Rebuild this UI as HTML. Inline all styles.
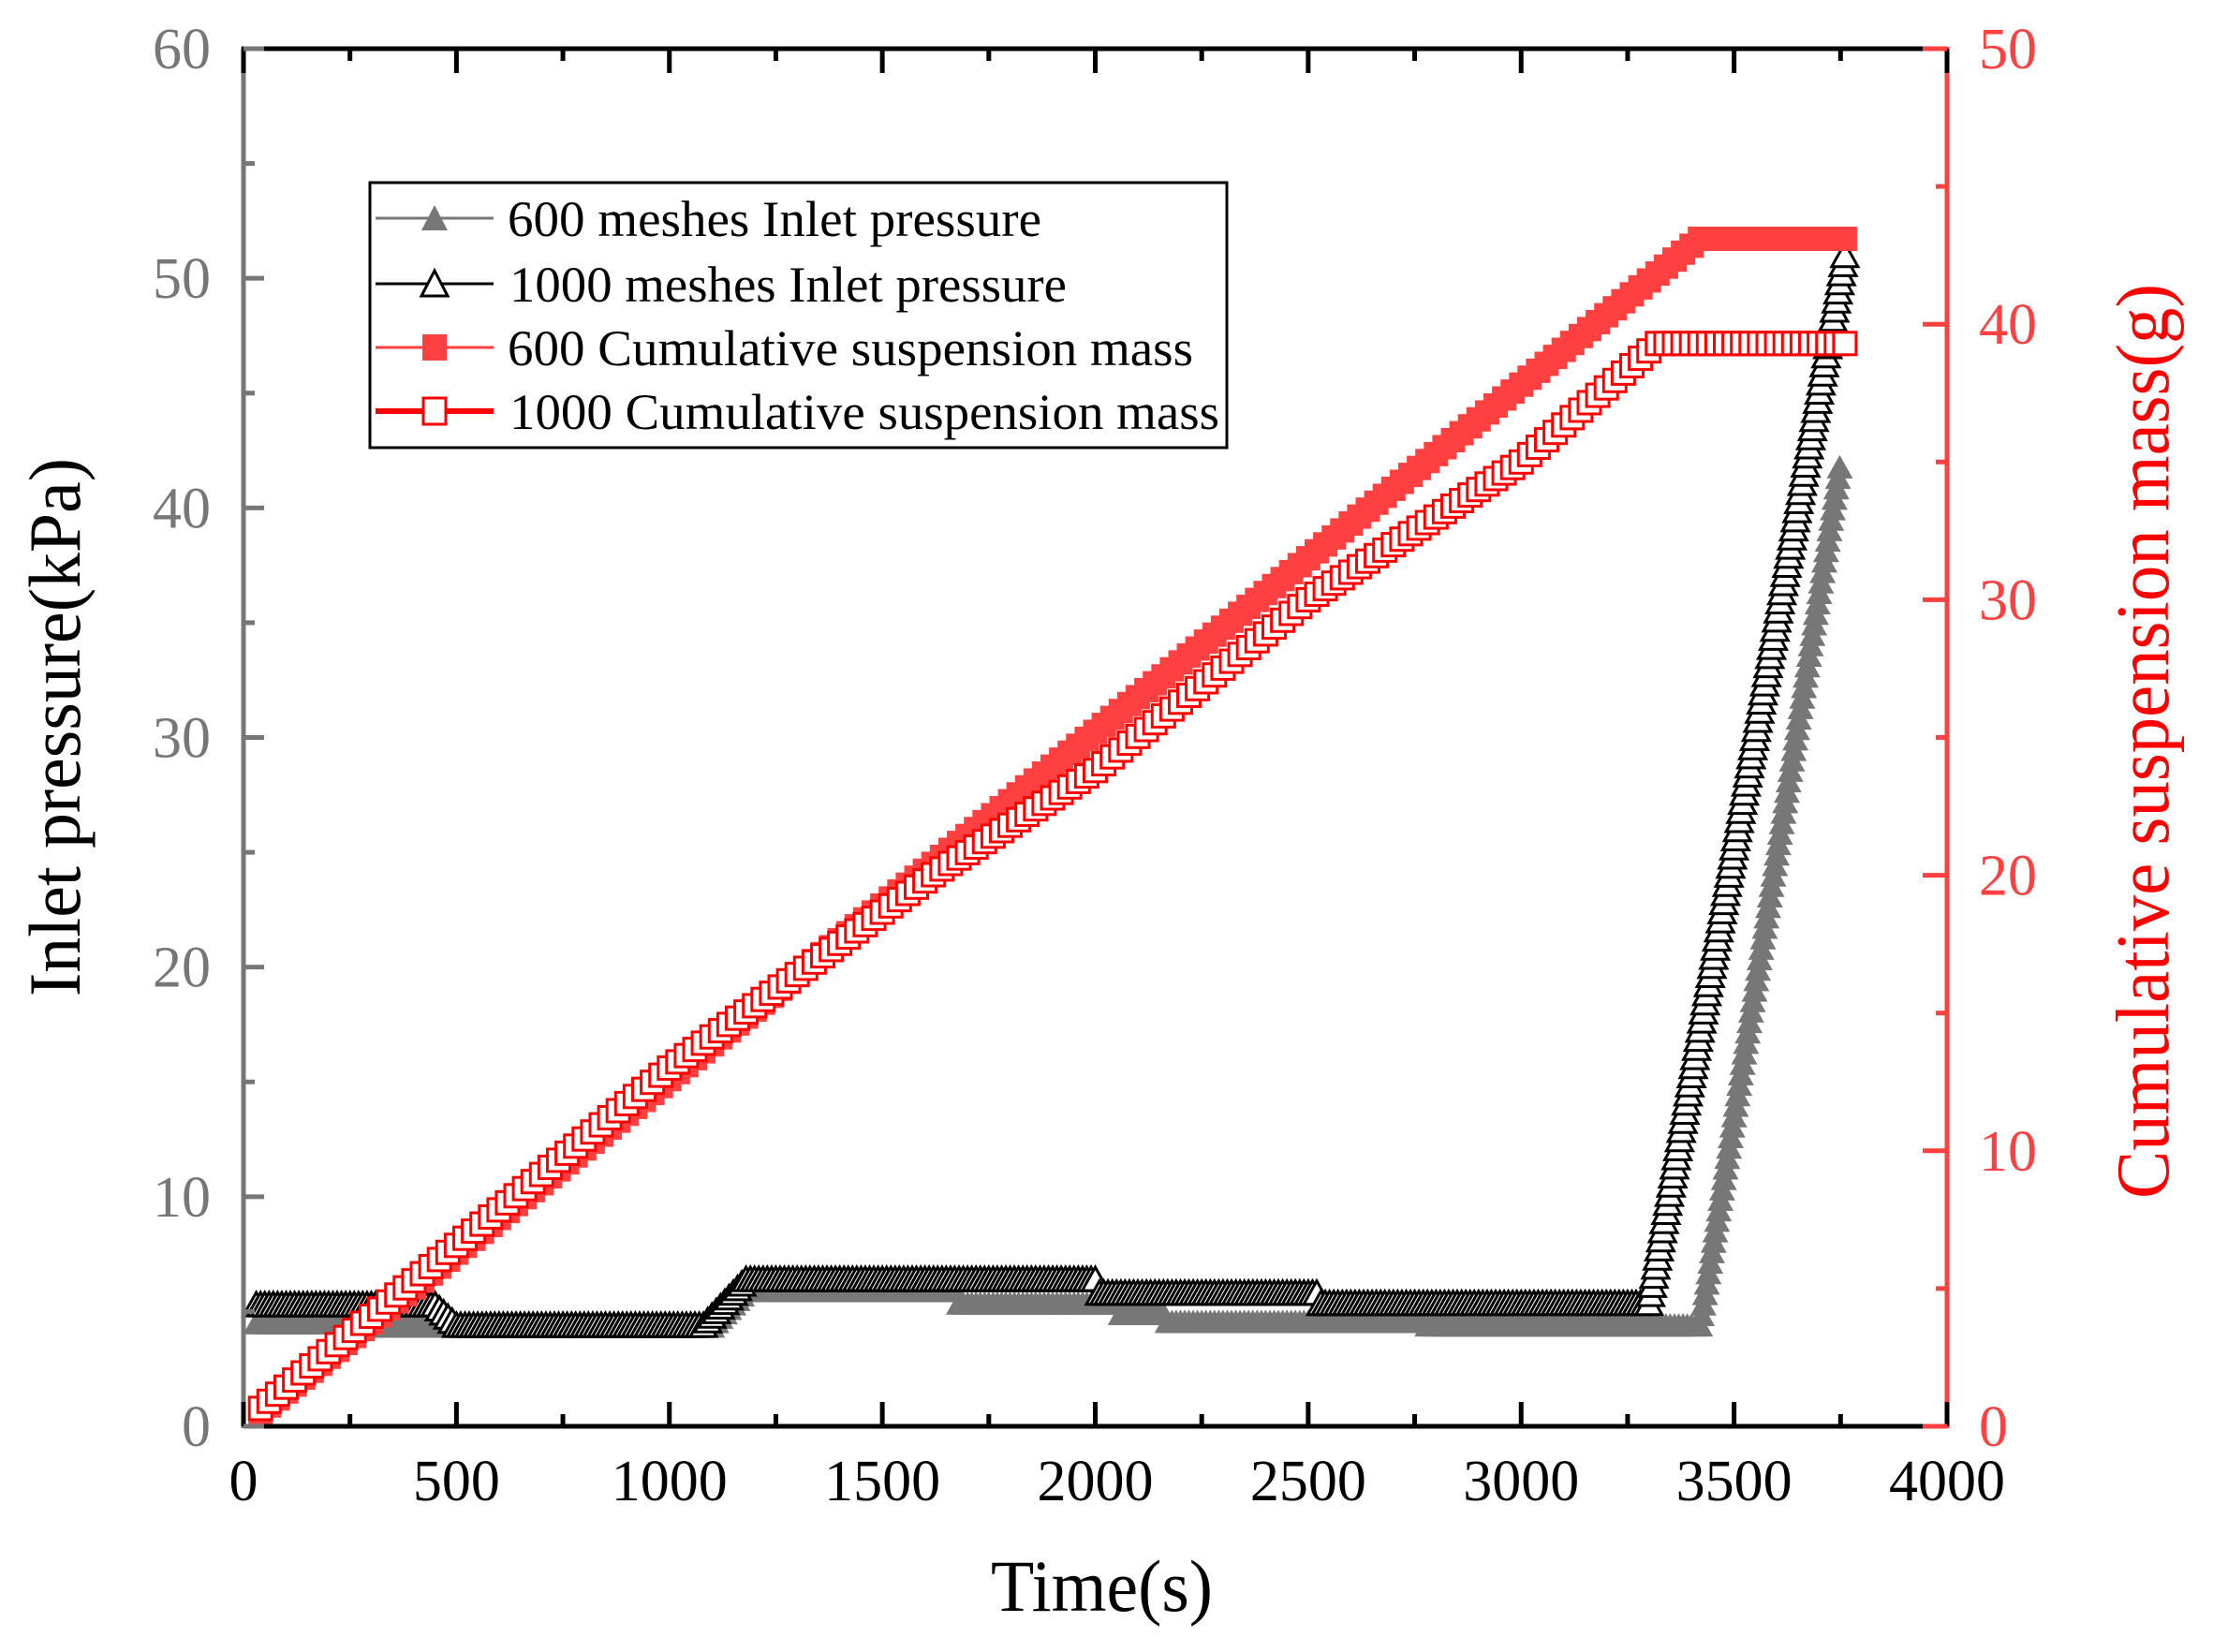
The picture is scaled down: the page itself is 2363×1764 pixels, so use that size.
<!DOCTYPE html>
<html><head><meta charset="utf-8"><style>
html,body{margin:0;padding:0;background:#fff;}
svg{display:block;}
text{font-family:"Liberation Serif",serif;}
</style></head><body>
<svg id="s" width="2363" height="1764" viewBox="0 0 2363 1764" xmlns="http://www.w3.org/2000/svg">
<g id="data"></g>
<g id="axes"></g>
<rect x="395" y="195" width="915" height="283" fill="#fff" stroke="#000" stroke-width="3"/>
<line x1="401" y1="233" x2="527" y2="233" stroke="#777" stroke-width="3"/>
<polygon points="450,246 478,246 464,219" fill="#777"/>
<line x1="401" y1="303" x2="527" y2="303" stroke="#000" stroke-width="3"/>
<polygon points="450,316 478,316 464,289" fill="#fff" stroke="#000" stroke-width="3"/>
<line x1="401" y1="371" x2="527" y2="371" stroke="#ff4040" stroke-width="3"/>
<rect x="451" y="357" width="26" height="28" fill="#ff4040"/>
<line x1="401" y1="439" x2="527" y2="439" stroke="#ff0000" stroke-width="6"/>
<rect x="452" y="425" width="24" height="28" fill="#fff" stroke="#ff0000" stroke-width="3"/>
<text x="542" y="252" font-size="54" textLength="570" lengthAdjust="spacingAndGlyphs">600 meshes Inlet pressure</text>
<text x="544" y="322" font-size="54" textLength="595" lengthAdjust="spacingAndGlyphs">1000 meshes Inlet pressure</text>
<text x="542" y="390" font-size="54" textLength="732" lengthAdjust="spacingAndGlyphs">600 Cumulative suspension mass</text>
<text x="544" y="458" font-size="54" textLength="758" lengthAdjust="spacingAndGlyphs">1000 Cumulative suspension mass</text>
<text x="1058" y="1720" font-size="78" textLength="237" lengthAdjust="spacingAndGlyphs">Time(s)</text>
<text transform="translate(85,1064) rotate(-90)" x="0" y="0" font-size="78" textLength="575" lengthAdjust="spacingAndGlyphs">Inlet pressure(kPa)</text>
<text transform="translate(2315,1280) rotate(-90)" x="0" y="0" font-size="80" fill="#ff0000" textLength="977" lengthAdjust="spacingAndGlyphs">Cumulative suspension mass(g)</text>
</svg>
<script>
(function(){
var X0=260,X1=2079,Y0=1523,Y1=52;
function sx(t){return X0+t*(X1-X0)/4000;}
function syL(p){return Y0-p*(Y0-Y1)/60;}
function syR(g){return Y0-g*(Y0-Y1)/50;}
function interp(pts,t){
 if(t<=pts[0][0])return pts[0][1];
 for(var i=1;i<pts.length;i++){if(t<=pts[i][0]){var a=pts[i-1],b=pts[i];if(b[0]==a[0])return b[1];return a[1]+(b[1]-a[1])*(t-a[0])/(b[0]-a[0]);}}
 return pts[pts.length-1][1];
}
var h='';
var p600=[[0,4.5],[250,4.5],[300,4.35],[1100,4.35],[1180,5.9],[1676,5.9],[1677,5.35],[2056,5.35],[2057,4.9],[2165,4.9],[2166,4.55],[2773,4.55],[2774,4.4],[3420,4.4],[3750,42]];
var p1000=[[0,5.3],[450,5.3],[500,4.4],[1080,4.4],[1180,6.4],[2000,6.4],[2001,5.8],[2525,5.8],[2526,5.35],[3300,5.35],[3760,51]];
var m600=[[0,0],[3420,43.1],[3750,43.1]];
var m1000=[[0,0.5],[40,0.65],[1000,13.0],[1627,20.1],[2000,23.8],[2500,30],[3000,35],[3320,39.3],[3750,39.3]];
function tri(x,y,fill,stroke){return '<polygon points="'+(x-14).toFixed(1)+','+(y+12).toFixed(1)+' '+(x+14).toFixed(1)+','+(y+12).toFixed(1)+' '+x.toFixed(1)+','+(y-13).toFixed(1)+'" fill="'+fill+'"'+(stroke?' stroke="'+stroke+'" stroke-width="3"':'')+'/>';}
var t;
for(t=30;t<=3750;t+=(t>=3420?4:10)){h+=tri(sx(t),syL(interp(p600,t)),'#777',null);}
for(t=30;t<=3760;t+=(t>=3300?4:10)){h+=tri(sx(t),syL(interp(p1000,t)),'#fff','#000');}
for(t=40;t<=3760;t+=20){var x=sx(t),y=syR(interp(m600,t));h+='<rect x="'+(x-13).toFixed(1)+'" y="'+(y-13).toFixed(1)+'" width="26" height="26" fill="#ff4040"/>';}
for(t=40;t<=3760;t+=20){var x=sx(t),y=syR(interp(m1000,t));h+='<rect x="'+(x-12).toFixed(1)+'" y="'+(y-12).toFixed(1)+'" width="24" height="24" fill="#fff" stroke="#ff0000" stroke-width="3"/>';}
document.getElementById('data').innerHTML=h;
var a='';
a+='<line x1="'+X0+'" y1="'+Y1+'" x2="'+X1+'" y2="'+Y1+'" stroke="#000" stroke-width="5"/>';
a+='<line x1="'+X0+'" y1="'+Y0+'" x2="'+X1+'" y2="'+Y0+'" stroke="#000" stroke-width="5"/>';
a+='<line x1="'+X0+'" y1="'+(Y1-2)+'" x2="'+X0+'" y2="'+(Y0+2)+'" stroke="#777" stroke-width="5"/>';
a+='<line x1="'+X1+'" y1="'+(Y1-2)+'" x2="'+X1+'" y2="'+(Y0+2)+'" stroke="#ff4040" stroke-width="5"/>';
a+='<line x1="'+(X0-2)+'" y1="'+Y1+'" x2="'+(X0+25)+'" y2="'+Y1+'" stroke="#000" stroke-width="5"/>';
for(var v=0;v<=4000;v+=250){var x=sx(v);var maj=(v%500==0);var L=maj?26:13;
 a+='<line x1="'+x+'" y1="'+Y0+'" x2="'+x+'" y2="'+(Y0-L)+'" stroke="#000" stroke-width="5"/>';
 a+='<line x1="'+x+'" y1="'+Y1+'" x2="'+x+'" y2="'+(Y1+L)+'" stroke="#000" stroke-width="5"/>';
 if(maj)a+='<text x="'+x+'" y="1602" font-size="62" text-anchor="middle">'+v+'</text>';}
for(var v=0;v<=60;v+=5){var y=syL(v);var maj=(v%10==0);var L=maj?22:12;
 a+='<line x1="'+X0+'" y1="'+y+'" x2="'+(X0+L)+'" y2="'+y+'" stroke="#777" stroke-width="5"/>';
 if(maj)a+='<text x="225" y="'+(y+21)+'" font-size="62" text-anchor="end" fill="#777">'+v+'</text>';}
for(var v=0;v<=50;v+=5){var y=syR(v);var maj=(v%10==0);var L=maj?26:12;
 a+='<line x1="'+X1+'" y1="'+y+'" x2="'+(X1-L)+'" y2="'+y+'" stroke="#ff4040" stroke-width="5"/>';
 if(maj)a+='<text x="2113" y="'+(y+21)+'" font-size="62" fill="#ff4040">'+v+'</text>';}
document.getElementById('axes').innerHTML=a;
})();
</script>
</body></html>
